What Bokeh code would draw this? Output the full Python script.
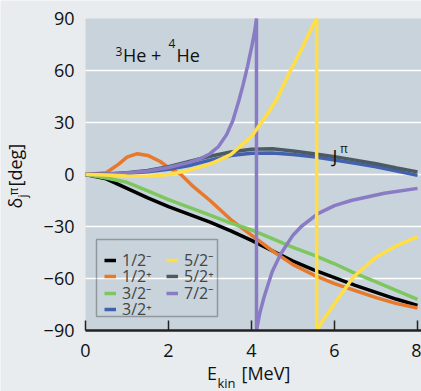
import math
from bokeh.plotting import figure
from bokeh.models import (Range1d, FixedTicker, Legend, LegendItem, Label, LinearAxis,
                          BoxAnnotation)
from bokeh.embed import file_html
from bokeh.resources import INLINE

# ---------------- data ----------------
e_black = [0, 0.5, 1, 1.5, 2, 2.5, 3, 3.5, 4, 4.5, 5, 5.5, 6, 6.5, 7, 7.5, 8]
d_black = [0, -2.5, -8, -13.5, -18.5, -23, -27.5, -32.5, -38, -44, -50, -55, -59.5, -64, -68, -72, -75.5]

e_orange = [0, 0.5, 0.8, 1, 1.25, 1.5, 1.8, 2, 2.3, 2.6, 3, 3.5, 4, 4.5, 5, 5.5, 6, 6.5, 7, 7.5, 8]
d_orange = [0, 1, 6, 10, 12, 11, 7.5, 4, 0, -7, -15, -26, -35, -44, -52, -58, -63, -67, -71, -74.5, -77]

e_green = [0, 0.5, 1, 1.5, 2, 2.5, 3, 3.5, 4, 4.5, 5, 5.5, 6, 6.5, 7, 7.5, 8]
d_green = [0, -2, -4.5, -9.5, -14.5, -19, -23.5, -28, -32, -37, -42, -46.5, -51.5, -57, -62, -67, -72]

e_blue = [0, 0.5, 1, 1.5, 2, 2.5, 3, 3.5, 4, 4.5, 5, 5.5, 6, 6.5, 7, 7.5, 8]
d_blue = [0, 0.2, 0.7, 1.6, 3, 5.2, 8.3, 11, 12.3, 12.4, 11.5, 10.2, 8.4, 6.5, 4.5, 2, -0.5]

e_yellow = [0, 0.5, 1, 1.5, 2, 2.5, 3, 3.5, 4, 4.3, 4.6, 4.94, 5.2, 5.4, 5.57, 5.57, 5.7, 6.0, 6.46, 7, 7.5, 8]
d_yellow = [0, -0.3, -0.8, -1, 0, 2.5, 6, 11.5, 22, 32, 43, 60, 72, 82, 90, -90, -85, -74.5, -59, -47.7, -41, -35.8]

e_dgray = [0, 0.5, 1, 1.5, 2, 2.5, 3, 3.5, 4, 4.5, 5, 5.5, 6, 6.5, 7, 7.5, 8]
d_dgray = [0, 0.3, 1, 2.3, 4.5, 7.5, 10.5, 13, 14.6, 14.8, 13.6, 12, 10.3, 8.3, 6.2, 3.8, 1.5]

e_purple = [0, 0.5, 1, 1.5, 2, 2.5, 2.8, 3.0, 3.2, 3.4, 3.55, 3.7, 3.8, 3.9, 4.0, 4.08, 4.12,
            4.12, 4.2, 4.3, 4.5, 4.7, 5.0, 5.2, 5.6, 6.0, 6.4, 7.2, 8]
d_purple = [0, 0.3, 0.8, 2, 4, 7, 9.5, 12, 16, 23, 31, 43, 52, 62, 73, 83, 90,
            -90, -80, -71, -56, -46, -35, -30, -22.6, -18, -15, -10.8, -8]

labels = ["1/2\u207b", "1/2\u207a", "3/2\u207b", "3/2\u207a", "5/2\u207b", "5/2\u207a", "7/2\u207b"]
colors = ["#000000", "#e8782a", "#7ec75f", "#4262b0", "#ffdf45", "#4b5a63", "#8a7cc4"]
legend_rows = [[0, 4], [1, 5], [2, 6], [3]]

x_ticks = [0, 2, 4, 6, 8]
y_ticks = [-90, -60, -30, 0, 30, 60, 90]

FONT = "Open Sans"
OUTER = "#e8ecef"
PANEL = "#c8d3db"

# ---------------- layout (pixels) ----------------
W, H = 421, 391
PX_X0, PX_X8 = 85.0, 417.0      # pixel of E=0 and E=8
PX_YTOP, PX_YBOT = 18.0, 330.0  # pixel of +90 and -90
sx = (PX_X8 - PX_X0) / 8.0
sy = (PX_YBOT - PX_YTOP) / 180.0
x_start = -PX_X0 / sx
x_end = (W - PX_X0) / sx
y_end = 90 + PX_YTOP / sy
y_start = -90 - (H - PX_YBOT) / sy

p = figure(width=W, height=H, output_backend="svg", toolbar_location=None,
           x_range=Range1d(x_start, x_end), y_range=Range1d(y_start, y_end),
           x_axis_type=None, y_axis_type=None,
           min_border_left=0, min_border_right=0, min_border_top=0, min_border_bottom=0)
p.background_fill_color = OUTER
p.border_fill_color = OUTER
p.outline_line_color = None

# plot panel
p.add_layout(BoxAnnotation(left=0, bottom=y_ticks[0], top=y_ticks[-1], fill_color=PANEL,
                           fill_alpha=1, line_alpha=0, level="underlay"))

# horizontal grid lines at the inner y ticks
grid_vals = [t for t in y_ticks if y_ticks[0] < t < y_ticks[-1]]
p.segment(x0=[0] * len(grid_vals), x1=[x_end] * len(grid_vals), y0=grid_vals, y1=grid_vals,
          line_color="white", line_width=1.5)

series = [(e_black, d_black), (e_orange, d_orange), (e_green, d_green), (e_blue, d_blue),
          (e_yellow, d_yellow), (e_dgray, d_dgray), (e_purple, d_purple)]
draw_order = [0, 1, 2, 3, 5, 6, 4]
renderers = {}
for i in draw_order:
    xs, ys = series[i]
    renderers[i] = p.line(xs, ys, line_color=colors[i], line_width=3.5)

# axes at fixed positions
xax = LinearAxis(fixed_location=y_ticks[0], bounds=(0, x_end), ticker=FixedTicker(ticks=x_ticks))
yax = LinearAxis(fixed_location=0, bounds=(y_ticks[0], y_ticks[-1]), ticker=FixedTicker(ticks=y_ticks))
yax.major_label_overrides = {t: (str(t) if t >= 0 else "\u2212" + str(-t)) for t in y_ticks}
for ax in (xax, yax):
    ax.major_label_text_font = FONT
    ax.major_label_text_font_size = "18px"
    ax.major_label_text_color = "#111111"
    ax.minor_tick_line_color = None
xax.axis_line_color = "#222222"
xax.axis_line_width = 2.5
xax.major_tick_line_color = "#222222"
xax.major_tick_line_width = 1.5
xax.major_tick_in = 10
xax.major_tick_out = 0
xax.major_label_standoff = 13
yax.axis_line_color = None
yax.major_tick_line_color = None
yax.major_tick_in = 0
yax.major_tick_out = 0
yax.major_label_standoff = 11
p.add_layout(xax, "below")
p.add_layout(yax, "left")

# legend: a framed box holding four one-row legends
LEG_L, LEG_R, LEG_T, LEG_B = 96, 217, 239, 316
p.add_layout(BoxAnnotation(left=LEG_L, right=LEG_R, top=H - LEG_T, bottom=H - LEG_B,
                           left_units="screen", right_units="screen",
                           top_units="screen", bottom_units="screen",
                           fill_alpha=0, line_color="#111111", line_width=1.5,
                           level="overlay"))
ROW0, ROW_STEP, ROW_OFF = 254.0, 16.4, 17
for r, row in enumerate(legend_rows):
    center = ROW0 + r * ROW_STEP
    items = [LegendItem(label=labels[i], renderers=[renderers[i]]) for i in row]
    leg = Legend(items=items, location=(LEG_L + 8, H - (center + ROW_OFF)),
                 orientation="horizontal",
                 label_text_font=FONT, label_text_font_size="16px",
                 label_height=16, label_width=30, glyph_height=16, glyph_width=12,
                 label_standoff=6, spacing=14, padding=0, margin=0,
                 border_line_alpha=0, background_fill_alpha=0)
    p.add_layout(leg, "center")


# text annotations (pixel positions, measured from the top-left of the picture)
def txt(px, py, s, size, angle=0.0):
    shift = 0.58 * size
    if angle == 0:
        x, y = px, H - (py - shift)
    else:
        x, y = px - shift, H - py
    p.add_layout(Label(x=x, y=y, x_units="screen", y_units="screen", text=s,
                       text_font=FONT, text_font_size=f"{size}px", text_color="#111111",
                       text_align="left", text_baseline="alphabetic", angle=angle,
                       level="overlay"))


txt(115, 58, "3", 12)
txt(122.5, 65, "He +", 18)
txt(168, 50, "4", 12)
txt(176, 65, "He", 18)

txt(332, 166, "J", 18)
txt(339.5, 155, "\u03c0", 12)

txt(206.5, 383, "E", 18)
txt(217, 390, "kin", 13)
txt(241, 383, "[MeV]", 18)

A = math.pi / 2
txt(25, 208, "\u03b4", 18, A)
txt(29, 197, "j", 12, A)
txt(20, 195, "\u03c0", 12, A)
txt(25, 186, "[deg]", 18, A)

html = file_html(p, INLINE)
html = html.replace("<body>", f"<body style=\"background-color:{OUTER}\">", 1)
open("out.html", "w").write(html)
